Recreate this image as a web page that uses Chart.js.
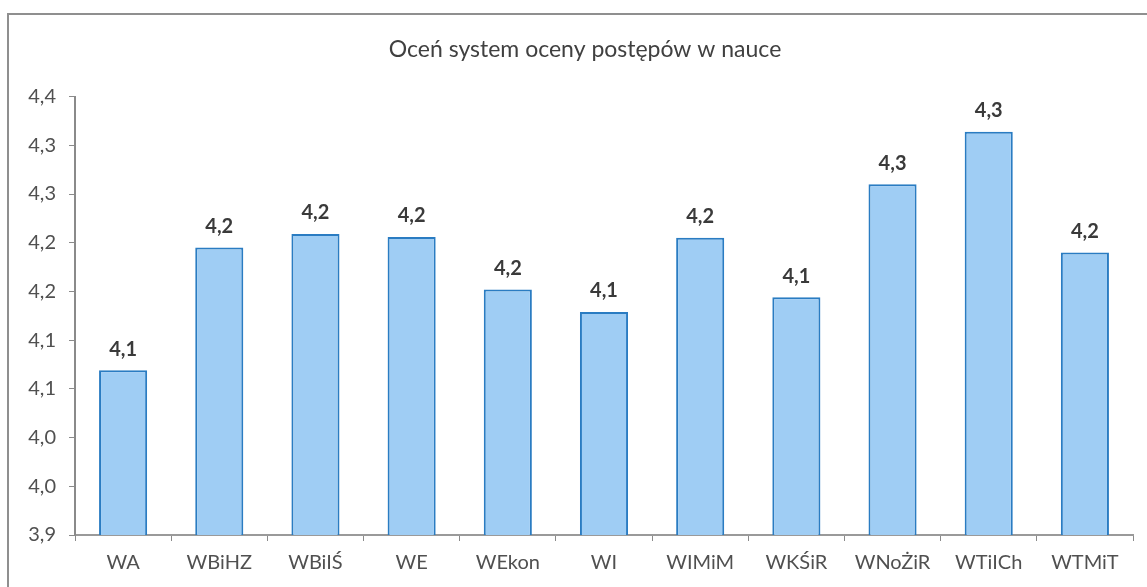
<!DOCTYPE html>
<html>
<head>
<meta charset="utf-8">
<script src="https://cdn.jsdelivr.net/npm/chart.js@4/dist/chart.umd.min.js"></script>
<style>
    html, body { margin: 0; padding: 0; background: #fff; overflow: hidden; }
    #frame {
        position: absolute; left: 7px; top: 13px; width: 1160px; height: 600px;
        border-left: 2px solid #8f8f8f; border-top: 2px solid #8f8f8f;
    }
    #wrap { position: absolute; left: 1px; top: 1px; width: 1150px; height: 580px; }
</style>
</head>
<body>
<div id="frame"><div id="wrap"><canvas id="chart"></canvas></div></div>
<script>
const categories = ['WA', 'WBiHZ', 'WBiIŚ', 'WE', 'WEkon', 'WI', 'WIMiM', 'WKŚiR', 'WNoŻiR', 'WTiICh', 'WTMiT'];
const values = [4.069, 4.195, 4.209, 4.206, 4.152, 4.129, 4.205, 4.144, 4.260, 4.314, 4.190];
const yTickLabels = ['3,9', '4,0', '4,0', '4,1', '4,1', '4,2', '4,2', '4,3', '4,3', '4,4'];

const fontFamily = 'Lato, "Noto Sans", sans-serif';

// value labels above each bar
const valueLabels = {
    id: 'valueLabels',
    afterDatasetsDraw(chart) {
        const ctx = chart.ctx;
        const meta = chart.getDatasetMeta(0);
        ctx.save();
        ctx.font = 'bold 20px ' + fontFamily;
        ctx.fillStyle = '#3a3a3a';
        ctx.textAlign = 'center';
        ctx.textBaseline = 'bottom';
        meta.data.forEach(function (bar, i) {
            const txt = values[i].toFixed(1).replace('.', ',');
            ctx.fillText(txt, bar.x, bar.y - 11);
        });
        ctx.restore();
    }
};

new Chart(document.getElementById('chart'), {
    type: 'bar',
    data: {
        labels: categories,
        datasets: [{
            data: values,
            backgroundColor: '#9fcdf4',
            borderColor: '#2a7cc2',
            borderWidth: 2,
            barPercentage: 0.5,
            categoryPercentage: 1.0
        }]
    },
    options: {
        responsive: true,
        maintainAspectRatio: false,
        animation: false,
        layout: { padding: 0 },
        plugins: {
            legend: { display: false },
            tooltip: { enabled: false },
            title: {
                display: true,
                text: 'Oceń system oceny postępów w nauce',
                color: '#404040',
                font: { size: 23, weight: 'normal', family: fontFamily },
                padding: { top: 20, bottom: 33 }
            }
        },
        scales: {
            x: {
                grid: { display: true, drawOnChartArea: false, tickLength: 6, color: '#8a8a8a', offset: true },
                border: { display: true, color: '#9a9a9a', width: 2 },
                ticks: { color: '#505050', font: { size: 20, family: fontFamily }, padding: 10 },
                afterFit: function (scale) { scale.height = 61; }
            },
            y: {
                min: 3.9,
                max: 4.35,
                grid: { display: true, drawOnChartArea: false, tickLength: 6, color: '#8a8a8a' },
                border: { display: true, color: '#8a8a8a', width: 2 },
                ticks: {
                    stepSize: 0.05,
                    color: '#505050',
                    font: { size: 20, family: fontFamily },
                    padding: 13,
                    callback: function (v, i) { return yTickLabels[i]; }
                },
                afterFit: function (scale) { scale.width = 65; }
            },
            // empty spacer on the right so the title stays centred on the whole frame
            spacer: {
                position: 'right',
                min: 0,
                max: 1,
                grid: { display: false },
                border: { display: false },
                ticks: { display: false },
                afterFit: function (scale) { scale.width = 27; }
            }
        }
    },
    plugins: [valueLabels]
});
</script>
</body>
</html>
